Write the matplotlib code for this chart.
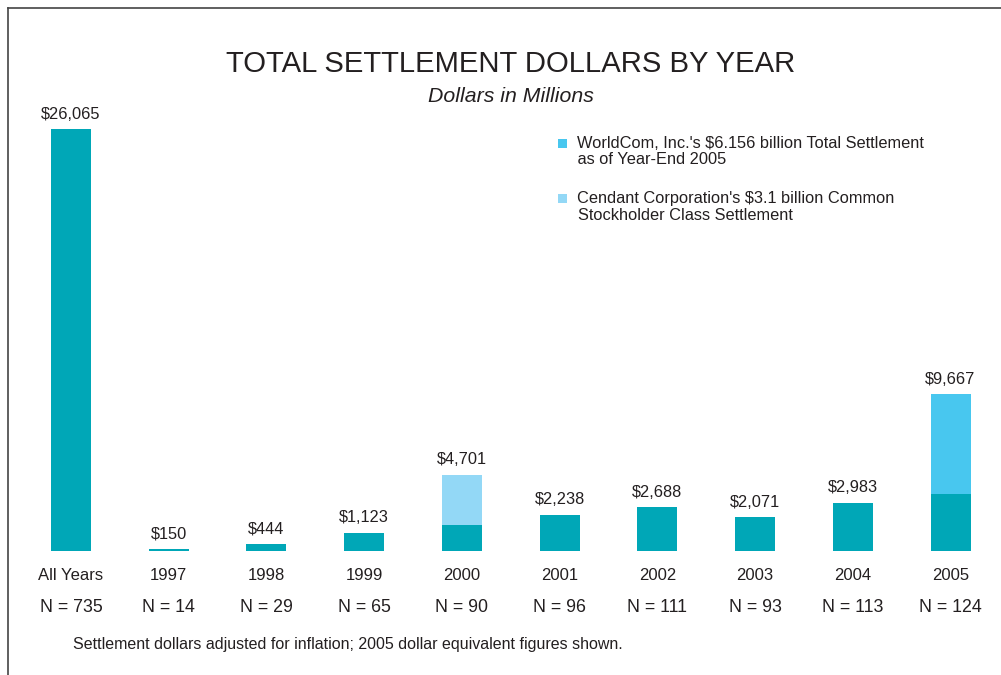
import matplotlib
matplotlib.use("Agg")
import matplotlib.pyplot as plt
from matplotlib.lines import Line2D
from matplotlib.patches import Rectangle
import matplotlib.transforms as mtransforms
import numpy as np

plt.rcParams['font.family'] = ['Liberation Sans', 'DejaVu Sans']

categories = ['All Years', '1997', '1998', '1999', '2000', '2001', '2002', '2003', '2004', '2005']
totals = [26065, 150, 444, 1123, 4701, 2238, 2688, 2071, 2983, 9667]
n_counts = [735, 14, 29, 65, 90, 96, 111, 93, 113, 124]
worldcom = [0, 0, 0, 0, 0, 0, 0, 0, 0, 6156]
cendant = [0, 0, 0, 0, 3100, 0, 0, 0, 0, 0]

TEAL = '#00A7B7'
WCOM = '#48C7EF'
CEND = '#93D8F6'
TXT = '#231F20'

W, H = 1001, 675
fig = plt.figure(figsize=(W / 100, H / 100), dpi=100)

x0, x9 = 71.0, 950.5
step = (x9 - x0) / 9
left_px = x0 - 0.5 * step
right_px = x9 + 0.5 * step
base_px = 551.0
scale = (base_px - 129.0) / 26065.0
ymax = 30000
ax_h = ymax * scale
ax = fig.add_axes([left_px / W, (H - base_px) / H, (right_px - left_px) / W, ax_h / H])
ax.set_xlim(-0.5, 9.5)
ax.set_ylim(0, ymax)
ax.axis('off')

x = np.arange(len(categories))
totals_a = np.array(totals)
wc = np.array(worldcom)
cd = np.array(cendant)
base = totals_a - wc - cd
bw = 40 / step
ax.bar(x, base, width=bw, color=TEAL, linewidth=0)
ax.bar(x, cd, bottom=base, width=bw, color=CEND, linewidth=0)
ax.bar(x, wc, bottom=base + cd, width=bw, color=WCOM, linewidth=0)

for xi, t in zip(x, totals):
    ax.annotate(f"${t:,}", (xi, t), xytext=(0, 7.5), textcoords='offset points',
                ha='center', va='baseline', fontsize=11.8, color=TXT)

trans = mtransforms.blended_transform_factory(ax.transData, fig.transFigure)
for xi, c, n in zip(x, categories, n_counts):
    ax.text(xi, 1 - 575 / H, c, transform=trans, ha='center', va='center', fontsize=12, color=TXT)
    ax.text(xi, 1 - 607 / H, f"N = {n}", transform=trans, ha='center', va='center', fontsize=12.8, color=TXT)

fig.text(511 / W, 1 - 64 / H, 'TOTAL SETTLEMENT DOLLARS BY YEAR', ha='center', va='center',
         fontsize=21.1, color=TXT)
fig.text(511 / W, 1 - 97 / H, 'Dollars in Millions', ha='center', va='center',
         fontsize=15.3, style='italic', color=TXT)
fig.text(73 / W, 1 - 645 / H,
         'Settlement dollars adjusted for inflation; 2005 dollar equivalent figures shown.',
         ha='left', va='center', fontsize=11.5, color=TXT)

for ypx, col, l1, l2, ind in [(143, WCOM, "WorldCom, Inc.'s $6.156 billion Total Settlement", " as of Year-End 2005", 573),
                              (198, CEND, "Cendant Corporation's $3.1 billion Common", "Stockholder Class Settlement", 578)]:
    fig.patches.append(Rectangle((558 / W, 1 - (ypx + 4.5) / H), 9 / W, 9 / H,
                                 transform=fig.transFigure, color=col, linewidth=0))
    fig.text(577 / W, 1 - ypx / H, l1, ha='left', va='center', fontsize=11.8, color=TXT)
    fig.text(ind / W, 1 - (ypx + 17) / H, l2, ha='left', va='center', fontsize=11.8, color=TXT)

fig.add_artist(Line2D([7.5 / W, 7.5 / W], [0, 1 - 8 / H], transform=fig.transFigure, color='#444444', lw=1.2))
fig.add_artist(Line2D([7.5 / W, 1], [1 - 8 / H, 1 - 8 / H], transform=fig.transFigure, color='#444444', lw=1.2))

fig.savefig('out.png', dpi=100)
